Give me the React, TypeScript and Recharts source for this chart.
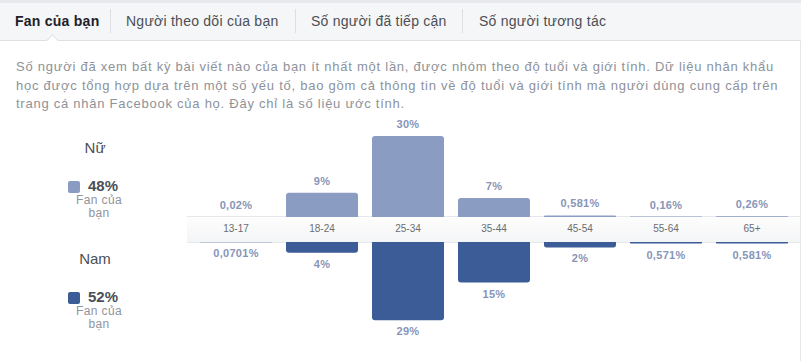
import React from "react";
import { BarChart, Bar, XAxis, YAxis, LabelList, Rectangle } from "recharts";

const TABS = ["Fan của bạn", "Người theo dõi của bạn", "Số người đã tiếp cận", "Số người tương tác"];
const DESCRIPTION = [
  "Số người đã xem bất kỳ bài viết nào của bạn ít nhất một lần, được nhóm theo độ tuổi và giới tính. Dữ liệu nhân khẩu",
  "học được tổng hợp dựa trên một số yếu tố, bao gồm cả thông tin về độ tuổi và giới tính mà người dùng cung cấp trên",
  "trang cá nhân Facebook của họ. Đây chỉ là số liệu ước tính.",
];
const AGE_GROUPS = ["13-17", "18-24", "25-34", "35-44", "45-54", "55-64", "65+"];
const FEMALE = [0.02, 9, 30, 7, 0.581, 0.16, 0.26];
const MALE = [0.0701, 4, 29, 15, 2, 0.571, 0.581];
const GENDERS = ["Nữ", "Nam"];
const GENDER_SHARE = [48, 52];
const LEGEND_CAPTION = ["Fan của", "bạn"];

const FEMALE_COLOR = "#8b9cc3";
const MALE_COLOR = "#3b5c96";
const LABEL_COLOR = "#8795b8";
const FONT = "'Liberation Sans', Arial, Helvetica, sans-serif";

const rows = AGE_GROUPS.map((age, i) => ({ age, female: FEMALE[i], male: MALE[i] }));

const fmt = (v: number) => String(v).replace(".", ",") + "%";

function BandTick(props: any) {
  const { x, y, payload } = props;
  return (
    <text x={x} y={y + 12} textAnchor="middle" dominantBaseline="middle" fontSize={10} fill="#6a6d72" fontFamily={FONT}>
      {payload.value}
    </text>
  );
}

function TopLabel(props: any) {
  const { x, y, width, height, value } = props;
  const top = Math.min(y, y + height);
  return (
    <text x={x + width / 2} y={top - 8} textAnchor="middle" fontSize={11} fontWeight="bold" fill={LABEL_COLOR} fontFamily={FONT} letterSpacing={0.3}>
      {fmt(value)}
    </text>
  );
}

function BottomLabel(props: any) {
  const { x, y, width, height, value } = props;
  const bottom = Math.max(y, y + height);
  return (
    <text x={x + width / 2} y={bottom + 15} textAnchor="middle" fontSize={11} fontWeight="bold" fill={LABEL_COLOR} fontFamily={FONT} letterSpacing={0.3}>
      {fmt(value)}
    </text>
  );
}

function DownBar(props: any) {
  const { y, height } = props;
  return <Rectangle {...props} y={Math.min(y, y + height)} height={Math.abs(height)} radius={[0, 0, 3, 3]} />;
}

const tabLeft = [15, 126, 311, 479];
const sepLeft = [110, 295, 462];

function LegendBlock({ idx, top }: { idx: number; top: number }) {
  const color = idx === 0 ? FEMALE_COLOR : MALE_COLOR;
  return (
    <div style={{ position: "absolute", left: 60, top, width: 70, fontFamily: FONT }}>
      <div style={{ textAlign: "center", fontSize: 15, color: "#4b4f56", lineHeight: "18px" }}>{GENDERS[idx]}</div>
      <div style={{ position: "absolute", top: 42, left: 8, width: 12, height: 12, background: color, borderRadius: 2 }} />
      <div style={{ position: "absolute", top: 38, left: 28, fontSize: 15, fontWeight: "bold", color: "#4b4f56", lineHeight: "18px" }}>
        {GENDER_SHARE[idx]}%
      </div>
      <div style={{ position: "absolute", top: 55, left: 3, width: 72, textAlign: "center", fontSize: 12, letterSpacing: 0.4, color: "#90949c", lineHeight: "13px" }}>
        {LEGEND_CAPTION.map((c) => (
          <div key={c}>{c}</div>
        ))}
      </div>
    </div>
  );
}

export default function App() {
  return (
    <div style={{ position: "absolute", left: 0, top: 0, width: 801, height: 361, background: "#fff", overflow: "hidden", fontFamily: FONT }}>
      {/* tab bar */}
      <div style={{ position: "absolute", left: 0, top: 0, width: 801, height: 3, background: "#e6e8eb" }} />
      <div style={{ position: "absolute", left: 0, top: 3, width: 801, height: 37, background: "#f5f6f7", borderBottom: "1px solid #dddfe2" }} />
      {TABS.map((t, i) => (
        <div
          key={t}
          style={{
            position: "absolute",
            left: tabLeft[i],
            top: 13,
            fontSize: 14,
            lineHeight: "17px",
            letterSpacing: 0.25,
            whiteSpace: "nowrap",
            fontWeight: i === 0 ? "bold" : "normal",
            color: i === 0 ? "#1d2129" : "#4b4f56",
          }}
        >
          {t}
        </div>
      ))}
      {sepLeft.map((x) => (
        <div key={x} style={{ position: "absolute", left: x, top: 9, width: 1, height: 24, background: "#dddfe2" }} />
      ))}
      <div style={{ position: "absolute", left: 48, top: 36, width: 8, height: 8, background: "#fff", borderLeft: "1px solid #dddfe2", borderTop: "1px solid #dddfe2", transform: "rotate(45deg)" }} />
      <div style={{ position: "absolute", left: 800, top: 41, width: 1, height: 320, background: "#e5e6e9" }} />

      {/* description */}
      <div style={{ position: "absolute", left: 16, top: 58, fontSize: 13, letterSpacing: 0.75, lineHeight: "18.5px", color: "#8e929a", whiteSpace: "nowrap" }}>
        {DESCRIPTION.map((l) => (
          <div key={l}>{l}</div>
        ))}
      </div>

      {/* legend */}
      <LegendBlock idx={0} top={139} />
      <LegendBlock idx={1} top={250} />

      {/* age band */}
      <div
        style={{
          position: "absolute",
          left: 187,
          top: 216,
          width: 613,
          height: 25,
          background: "linear-gradient(#fdfdfd, #f4f5f6)",
          borderTop: "1px solid #e6e8eb",
          borderBottom: "1px solid #e6e8eb",
        }}
      />

      <div style={{ position: "absolute", left: 0, top: 100 }}>
        <BarChart width={801} height={142} data={rows} margin={{ top: 36, right: 6, left: 193, bottom: 0 }} barCategoryGap={7}>
          <XAxis dataKey="age" axisLine={false} tickLine={false} tickSize={0} tickMargin={0} height={25} interval={0} tick={<BandTick />} />
          <YAxis hide domain={[0, 30]} />
          <Bar dataKey="female" fill={FEMALE_COLOR} radius={[3, 3, 0, 0]} isAnimationActive={false}>
            <LabelList dataKey="female" content={TopLabel} />
          </Bar>
        </BarChart>
      </div>

      <div style={{ position: "absolute", left: 0, top: 242 }}>
        <BarChart width={801} height={105} data={rows} margin={{ top: 0, right: 6, left: 193, bottom: 24 }} barCategoryGap={7}>
          <XAxis dataKey="age" hide />
          <YAxis hide domain={[0, 30]} reversed />
          <Bar dataKey="male" fill={MALE_COLOR} shape={DownBar} isAnimationActive={false}>
            <LabelList dataKey="male" content={BottomLabel} />
          </Bar>
        </BarChart>
      </div>
    </div>
  );
}
